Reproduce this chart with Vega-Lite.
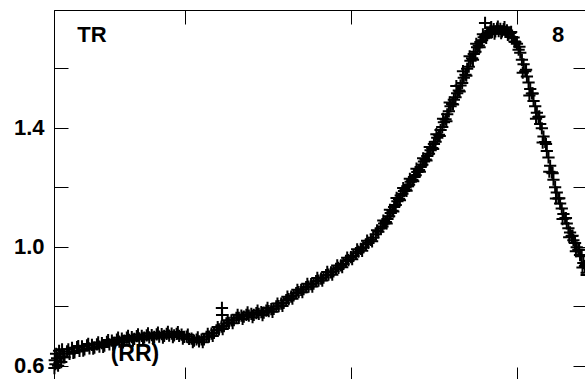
{
  "$schema": "https://vega.github.io/schema/vega-lite/v6.json",
  "width": 533,
  "height": 371,
  "autosize": "none",
  "padding": {"left": 54, "top": 10, "right": 0, "bottom": 0},
  "background": "white",
  "config": {
    "view": {"stroke": "black", "strokeWidth": 1},
    "axis": {"domainColor": "black", "tickColor": "black", "tickWidth": 1, "grid": false, "title": null,
             "labelFont": "Liberation Sans", "labelFontWeight": "bold", "labelFontSize": 22, "labelColor": "black"}
  },
  "datasets": {
    "pts": [
      {"x":21.4,"y":0.592},{"x":21.6,"y":0.618},{"x":22,"y":0.605},{"x":22.4,"y":0.640},{"x":23,"y":0.625},{"x":23.6,"y":0.600},{"x":24.2,"y":0.650},{"x":24.8,"y":0.632},{"x":25.5,"y":0.612},
      {"x":26,"y":0.655},{"x":27.5,"y":0.628},{"x":29,"y":0.648},{"x":30.5,"y":0.640},{"x":32,"y":0.660},{"x":33.5,"y":0.645},{"x":35,"y":0.662},{"x":36.5,"y":0.650},{"x":38,"y":0.665},{"x":39.5,"y":0.655},
      {"x":41,"y":0.668},{"x":42.5,"y":0.658},{"x":44,"y":0.670},{"x":45.5,"y":0.661},{"x":47,"y":0.672},{"x":48.5,"y":0.664},{"x":50,"y":0.676},{"x":51.5,"y":0.667},{"x":53,"y":0.680},{"x":54.5,"y":0.672},
      {"x":56,"y":0.684},{"x":57.5,"y":0.677},{"x":59,"y":0.688},{"x":60.5,"y":0.681},{"x":62,"y":0.691},{"x":63.5,"y":0.684},{"x":65,"y":0.694},{"x":66.5,"y":0.687},{"x":68,"y":0.696},{"x":69.5,"y":0.690},
      {"x":71,"y":0.699},{"x":72.5,"y":0.692},{"x":74,"y":0.700},{"x":75.5,"y":0.694},{"x":77,"y":0.702},{"x":78.5,"y":0.695},{"x":80,"y":0.703},{"x":81.5,"y":0.697},{"x":83,"y":0.705},{"x":84.5,"y":0.698},
      {"x":86,"y":0.706},{"x":87.5,"y":0.700},{"x":89,"y":0.707},{"x":90.5,"y":0.701},{"x":92,"y":0.708},{"x":93.5,"y":0.702},{"x":95,"y":0.707},{"x":96.5,"y":0.700},{"x":98,"y":0.704},{"x":99.5,"y":0.697},
      {"x":101,"y":0.698},{"x":102.5,"y":0.690},{"x":104,"y":0.691},{"x":105.5,"y":0.684},{"x":107,"y":0.688},{"x":108.5,"y":0.682},{"x":110,"y":0.688},{"x":111.5,"y":0.688},{"x":113,"y":0.697},{"x":114.5,"y":0.698},
      {"x":116,"y":0.708},{"x":117.5,"y":0.710},{"x":119,"y":0.719},{"x":120.5,"y":0.722},{"x":122,"y":0.731},{"x":122.3,"y":0.794},{"x":122.4,"y":0.770},{"x":123.5,"y":0.733},{"x":125,"y":0.742},{"x":126.5,"y":0.744},
      {"x":128,"y":0.752},{"x":129.5,"y":0.753},{"x":131,"y":0.761},{"x":132.5,"y":0.761},{"x":134,"y":0.768},{"x":135.5,"y":0.765},{"x":137,"y":0.771},{"x":138.5,"y":0.768},{"x":140,"y":0.774},{"x":141.5,"y":0.771},
      {"x":143,"y":0.777},{"x":144.5,"y":0.774},{"x":146,"y":0.780},{"x":147.5,"y":0.778},{"x":149,"y":0.785},{"x":150.5,"y":0.783},{"x":152,"y":0.790},{"x":153.5,"y":0.791},{"x":155,"y":0.799},{"x":156.5,"y":0.800},
      {"x":158,"y":0.809},{"x":159.5,"y":0.811},{"x":161,"y":0.820},{"x":162.5,"y":0.824},{"x":164,"y":0.832},{"x":165.5,"y":0.836},{"x":167,"y":0.844},{"x":168.5,"y":0.847},{"x":170,"y":0.855},{"x":171.5,"y":0.857},
      {"x":173,"y":0.864},{"x":174.5,"y":0.866},{"x":176,"y":0.874},{"x":177.5,"y":0.876},{"x":179,"y":0.884},{"x":180.5,"y":0.886},{"x":182,"y":0.893},{"x":183.5,"y":0.896},{"x":185,"y":0.904},{"x":186.5,"y":0.906},
      {"x":188,"y":0.914},{"x":189.5,"y":0.917},{"x":191,"y":0.925},{"x":192.5,"y":0.929},{"x":194,"y":0.937},{"x":195.5,"y":0.942},{"x":197,"y":0.952},{"x":198.5,"y":0.955},{"x":200,"y":0.965},{"x":201.5,"y":0.969},
      {"x":203,"y":0.978},{"x":204.5,"y":0.983},{"x":206,"y":0.993},{"x":207.5,"y":0.998},{"x":209,"y":1.008},{"x":210.5,"y":1.013},{"x":212,"y":1.023},{"x":213.5,"y":1.030},{"x":215,"y":1.042},{"x":216.5,"y":1.050},
      {"x":218,"y":1.062},{"x":219,"y":1.068},{"x":220,"y":1.078},{"x":221,"y":1.083},{"x":222,"y":1.093},{"x":223,"y":1.102},{"x":224,"y":1.113},{"x":225,"y":1.121},{"x":226,"y":1.133},{"x":227,"y":1.140},
      {"x":228,"y":1.153},{"x":229,"y":1.160},{"x":230,"y":1.172},{"x":231,"y":1.178},{"x":232,"y":1.187},{"x":233,"y":1.192},{"x":234,"y":1.203},{"x":235,"y":1.208},{"x":236,"y":1.218},{"x":237,"y":1.224},
      {"x":238,"y":1.234},{"x":239,"y":1.240},{"x":240,"y":1.251},{"x":241,"y":1.258},{"x":242,"y":1.268},{"x":243,"y":1.275},{"x":244,"y":1.286},{"x":245,"y":1.293},{"x":246,"y":1.305},{"x":247,"y":1.312},
      {"x":248,"y":1.324},{"x":249,"y":1.332},{"x":250,"y":1.345},{"x":251,"y":1.353},{"x":252,"y":1.366},{"x":253,"y":1.376},{"x":254,"y":1.392},{"x":255,"y":1.402},{"x":256,"y":1.418},{"x":257,"y":1.428},
      {"x":258,"y":1.445},{"x":259,"y":1.455},{"x":260,"y":1.472},{"x":261,"y":1.480},{"x":262,"y":1.494},{"x":263,"y":1.502},{"x":264,"y":1.516},{"x":265,"y":1.525},{"x":266,"y":1.542},{"x":267,"y":1.550},
      {"x":268,"y":1.568},{"x":269,"y":1.578},{"x":270,"y":1.598},{"x":271,"y":1.605},{"x":272,"y":1.625},{"x":273,"y":1.633},{"x":274,"y":1.648},{"x":275,"y":1.655},{"x":276,"y":1.670},{"x":277,"y":1.676},
      {"x":278,"y":1.688},{"x":279,"y":1.694},{"x":280,"y":1.704},{"x":280.8,"y":1.752},{"x":281,"y":1.708},{"x":282,"y":1.716},{"x":283,"y":1.718},{"x":284,"y":1.726},{"x":285,"y":1.722},{"x":286,"y":1.731},
      {"x":287,"y":1.724},{"x":288,"y":1.733},{"x":289,"y":1.725},{"x":290,"y":1.732},{"x":291,"y":1.724},{"x":292,"y":1.731},{"x":293,"y":1.722},{"x":294,"y":1.727},{"x":295,"y":1.716},{"x":296,"y":1.718},
      {"x":297,"y":1.705},{"x":298,"y":1.703},{"x":299,"y":1.688},{"x":300,"y":1.682},{"x":301,"y":1.662},{"x":302,"y":1.652},{"x":303,"y":1.628},{"x":304,"y":1.613},{"x":305,"y":1.590},{"x":306,"y":1.572},
      {"x":307,"y":1.552},{"x":308,"y":1.530},{"x":309,"y":1.515},{"x":310,"y":1.490},{"x":311,"y":1.472},{"x":312,"y":1.450},{"x":313,"y":1.436},{"x":314,"y":1.412},{"x":315,"y":1.398},{"x":316,"y":1.370},
      {"x":317,"y":1.352},{"x":318,"y":1.322},{"x":319,"y":1.300},{"x":320,"y":1.272},{"x":321,"y":1.250},{"x":322,"y":1.225},{"x":323,"y":1.200},{"x":324,"y":1.182},{"x":325,"y":1.162},{"x":326,"y":1.145},
      {"x":327,"y":1.128},{"x":328,"y":1.110},{"x":329,"y":1.095},{"x":330,"y":1.078},{"x":331,"y":1.062},{"x":332,"y":1.048},{"x":333,"y":1.036},{"x":334,"y":1.022},{"x":335,"y":1.012},{"x":336,"y":0.998},
      {"x":337,"y":0.990},{"x":338,"y":0.972},{"x":339,"y":0.968},{"x":340,"y":0.945},{"x":341,"y":0.935},{"x":342,"y":0.912},
      {"x":26.75,"y":0.628},{"x":29.75,"y":0.655},{"x":32.75,"y":0.643},{"x":35.75,"y":0.666},{"x":38.75,"y":0.651},{"x":41.75,"y":0.673},{"x":44.75,"y":0.657},{"x":47.75,"y":0.678},{"x":50.75,"y":0.663},{"x":53.75,"y":0.686},
      {"x":56.75,"y":0.671},{"x":59.75,"y":0.694},{"x":62.75,"y":0.678},{"x":65.75,"y":0.700},{"x":68.75,"y":0.684},{"x":71.75,"y":0.705},{"x":74.75,"y":0.688},{"x":77.75,"y":0.709},{"x":80.75,"y":0.691},{"x":83.75,"y":0.711},
      {"x":86.75,"y":0.694},{"x":89.75,"y":0.714},{"x":92.75,"y":0.696},{"x":95.75,"y":0.713},{"x":98.75,"y":0.691},{"x":101.75,"y":0.704},{"x":104.75,"y":0.679},{"x":107.75,"y":0.695},{"x":110.75,"y":0.679},{"x":113.75,"y":0.707},
      {"x":116.75,"y":0.700},{"x":119.75,"y":0.730},{"x":122.75,"y":0.723},{"x":125.75,"y":0.753},{"x":128.75,"y":0.743},{"x":131.75,"y":0.771},{"x":134.75,"y":0.757},{"x":137.75,"y":0.779},{"x":140.75,"y":0.763},{"x":143.75,"y":0.785},
      {"x":146.75,"y":0.770},{"x":149.75,"y":0.794},{"x":152.75,"y":0.781},{"x":155.75,"y":0.809},{"x":158.75,"y":0.801},{"x":161.75,"y":0.832},{"x":164.75,"y":0.825},{"x":167.75,"y":0.855},{"x":170.75,"y":0.847},{"x":173.75,"y":0.875},
      {"x":176.75,"y":0.866},{"x":179.75,"y":0.895},{"x":182.75,"y":0.886},{"x":185.75,"y":0.915},{"x":188.75,"y":0.906},{"x":191.75,"y":0.937},{"x":194.75,"y":0.931},{"x":197.75,"y":0.963},{"x":200.75,"y":0.958},{"x":203.75,"y":0.991},
      {"x":206.75,"y":0.986},{"x":209.75,"y":1.020},{"x":212.75,"y":1.018},{"x":215.75,"y":1.055},
      {"x":219.5,"y":1.088},{"x":221.5,"y":1.078},{"x":223.5,"y":1.124},{"x":225.5,"y":1.118},{"x":227.5,"y":1.164},{"x":229.5,"y":1.156},{"x":231.5,"y":1.197},{"x":233.5,"y":1.188},{"x":235.5,"y":1.228},{"x":237.5,"y":1.220},
      {"x":239.5,"y":1.262},{"x":241.5,"y":1.252},{"x":243.5,"y":1.297},{"x":245.5,"y":1.290},{"x":247.5,"y":1.335},{"x":249.5,"y":1.328},{"x":251.5,"y":1.378},{"x":253.5,"y":1.372},{"x":255.5,"y":1.430},{"x":257.5,"y":1.422},
      {"x":259.5,"y":1.485},{"x":261.5,"y":1.478},{"x":263.5,"y":1.540},{"x":265.5,"y":1.522},{"x":267.5,"y":1.590},{"x":269.5,"y":1.575},{"x":271.5,"y":1.640},{"x":273.5,"y":1.628},{"x":275.5,"y":1.682},{"x":277.5,"y":1.670},
      {"x":279.5,"y":1.714},{"x":281.5,"y":1.702},{"x":284.5,"y":1.738},{"x":286.5,"y":1.716},{"x":288.5,"y":1.740},{"x":290.5,"y":1.718},{"x":292.5,"y":1.738},{"x":294.5,"y":1.712},{"x":296.5,"y":1.722},{"x":298.5,"y":1.690},
      {"x":301.5,"y":1.672},{"x":303.5,"y":1.585},{"x":305.5,"y":1.595},{"x":307.5,"y":1.508},{"x":309.5,"y":1.515},{"x":311.5,"y":1.430},{"x":313.5,"y":1.438},{"x":315.5,"y":1.350},{"x":317.5,"y":1.345},{"x":319.5,"y":1.252},
      {"x":321.5,"y":1.247},{"x":323.5,"y":1.162},{"x":325.5,"y":1.163},{"x":327.5,"y":1.093},{"x":329.5,"y":1.096},{"x":331.5,"y":1.032},{"x":333.5,"y":1.037},{"x":335.5,"y":0.985},{"x":337.5,"y":0.990},{"x":339.5,"y":0.930},
      {"x":341.5,"y":0.940},{"x":342,"y":0.905}
    ]
  },
  "layer": [
    {
      "data": {"values": [{}]},
      "mark": {"type": "text", "font": "Liberation Sans", "fontWeight": "bold", "fontSize": 22, "align": "center", "baseline": "middle", "color": "black"},
      "encoding": {
        "x": {"datum": 44, "type": "quantitative", "scale": {"domain": [21.14, 342.2], "nice": false, "zero": false},
              "axis": {"orient": "top", "values": [100, 200, 300], "labels": false, "tickSize": -14, "domain": true}},
        "y": {"datum": 1.712, "type": "quantitative", "scale": {"domain": [0.5485, 1.7956], "nice": false, "zero": false},
              "axis": {"orient": "right", "values": [0.6, 0.8, 1.0, 1.2, 1.4, 1.6], "labels": false, "tickSize": -14, "domain": true}},
        "text": {"value": "TR"}
      }
    },
    {
      "data": {"values": [{}]},
      "mark": {"type": "text", "font": "Liberation Sans", "fontWeight": "bold", "fontSize": 22, "align": "center", "baseline": "middle", "color": "black"},
      "encoding": {
        "x": {"datum": 324.8, "type": "quantitative", "axis": null},
        "y": {"datum": 1.71, "type": "quantitative", "axis": null},
        "text": {"value": "8"}
      }
    },
    {
      "data": {"values": [{}]},
      "mark": {"type": "text", "font": "Liberation Sans", "fontWeight": "bold", "fontSize": 23, "align": "center", "baseline": "middle", "color": "black"},
      "encoding": {
        "x": {"datum": 69.9, "type": "quantitative", "axis": null},
        "y": {"datum": 0.638, "type": "quantitative", "axis": null},
        "text": {"value": "(RR)"}
      }
    },
    {
      "data": {"name": "pts"},
      "mark": {"type": "point", "shape": "M-1,0L1,0M0,-1L0,1", "filled": false, "size": 150, "strokeWidth": 2, "opacity": 1, "color": "black"},
      "encoding": {
        "x": {"field": "x", "type": "quantitative", "scale": {"domain": [21.14, 342.2], "nice": false, "zero": false},
              "axis": {"orient": "bottom", "values": [100, 200, 300], "labels": false, "tickSize": -14}},
        "y": {"field": "y", "type": "quantitative", "scale": {"domain": [0.5485, 1.7956], "nice": false, "zero": false},
              "axis": {"orient": "left", "values": [0.6, 0.8, 1.0, 1.2, 1.4, 1.6], "tickSize": -14, "labelPadding": 24,
                       "labelExpr": "(datum.value == 0.6 || datum.value == 1 || datum.value == 1.4) ? format(datum.value, '.1f') : ''"}}
      }
    }
  ],
  "resolve": {"axis": {"x": "independent", "y": "independent"}}
}
